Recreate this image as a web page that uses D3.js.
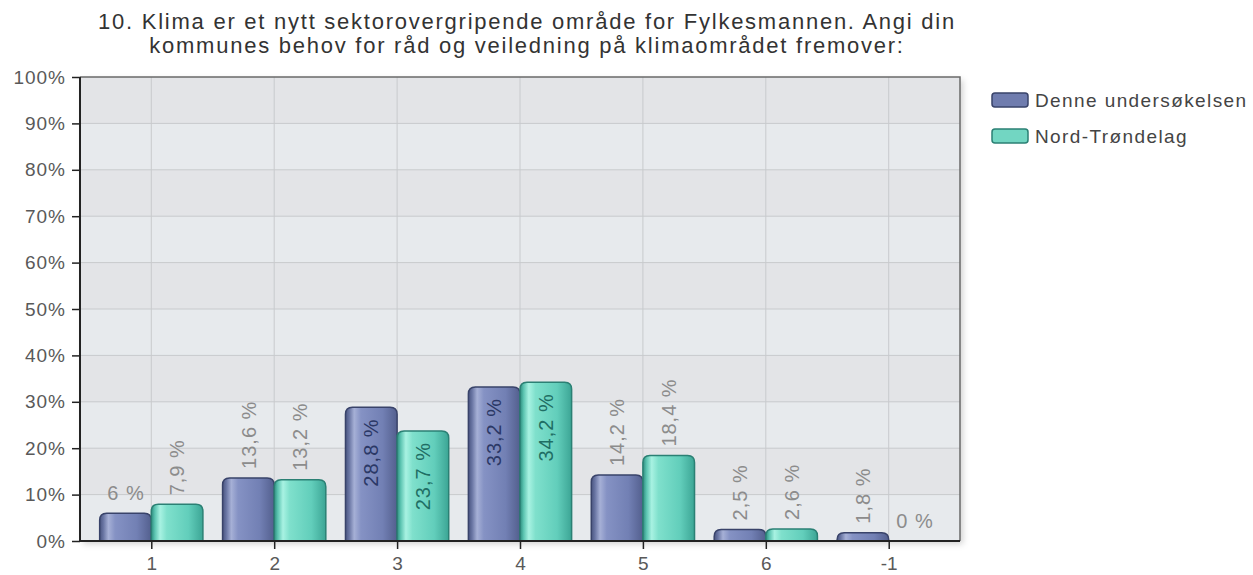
<!DOCTYPE html>
<html>
<head>
<meta charset="utf-8">
<script src="https://cdn.jsdelivr.net/npm/d3@7"></script>
<style>
  body { margin: 0; background: #fff; }
  text { font-family: "Liberation Sans", Arial, sans-serif; }
</style>
</head>
<body>
<div id="chart"></div>
<script>
// Data
const categories = ["1", "2", "3", "4", "5", "6", "-1"];
const seriesNames = ["Denne undersøkelsen", "Nord-Trøndelag"];
const denne = [6, 13.6, 28.8, 33.2, 14.2, 2.5, 1.8];
const nordTrondelag = [7.9, 13.2, 23.7, 34.2, 18.4, 2.6, 0];
const yTicks = [0, 10, 20, 30, 40, 50, 60, 70, 80, 90, 100];
const titleLines = [
  "10. Klima er et nytt sektorovergripende område for Fylkesmannen. Angi din",
  "kommunes behov for råd og veiledning på klimaområdet fremover:"
];

const width = 1253, height = 575;
const plot = { left: 80, right: 960, top: 77, bottom: 541 };

const svg = d3.select("#chart").append("svg")
  .attr("width", width)
  .attr("height", height);

const defs = svg.append("defs");

// soft shadow round the plot box
const shadow = defs.append("filter").attr("id", "plot-shadow")
  .attr("x", "-5%").attr("y", "-5%").attr("width", "110%").attr("height", "110%");
shadow.append("feDropShadow")
  .attr("dx", 3).attr("dy", 3).attr("stdDeviation", 3)
  .attr("flood-color", "#000").attr("flood-opacity", 0.18);

// cylinder-like gradients for the bars
const gradStops = {
  blue: [[0, "#4a5580"], [0.07, "#6874a2"], [0.17, "#a6b0d6"], [0.3, "#8592c4"], [0.72, "#7280b4"], [1, "#535f8e"]],
  teal: [[0, "#2d8c7e"], [0.07, "#5cc4b1"], [0.17, "#a8f2e2"], [0.3, "#7fe0cc"], [0.72, "#62cebb"], [1, "#3ca595"]]
};
Object.entries(gradStops).forEach(([key, stops]) => {
  const g = defs.append("linearGradient").attr("id", "grad-" + key)
    .attr("x1", "0%").attr("y1", "0%").attr("x2", "100%").attr("y2", "0%");
  g.selectAll("stop").data(stops).enter().append("stop")
    .attr("offset", d => d[0]).attr("stop-color", d => d[1]);
});

const series = [
  { name: seriesNames[0], values: denne, fill: "url(#grad-blue)", stroke: "#39436a", inside: "#2b3866", side: -1, legendFill: "#6f7cae" },
  { name: seriesNames[1], values: nordTrondelag, fill: "url(#grad-teal)", stroke: "#2b8074", inside: "#1f6e64", side: 0, legendFill: "#72d6c2" }
];

// Scales
const x = d3.scalePoint()
  .domain(categories)
  .range([plot.left, plot.right])
  .padding(0.58);

const y = d3.scaleLinear()
  .domain([0, 100])
  .range([plot.bottom, plot.top]);

const barWidth = x.step() * 0.42;

// Plot background with alternating bands
svg.append("rect")
  .attr("x", plot.left).attr("y", plot.top)
  .attr("width", plot.right - plot.left).attr("height", plot.bottom - plot.top)
  .attr("fill", "#e6e9ec")
  .attr("filter", "url(#plot-shadow)");

svg.append("g").selectAll("rect")
  .data(yTicks.slice(0, -1))
  .enter().append("rect")
  .attr("x", plot.left)
  .attr("y", d => y(d + 10))
  .attr("width", plot.right - plot.left)
  .attr("height", d => y(d) - y(d + 10))
  .attr("fill", (d, i) => i % 2 ? "#e3e4e7" : "#e7eaed");

// Grid lines
const grid = svg.append("g").attr("class", "grid");
grid.selectAll("line.h")
  .data(yTicks.slice(1, -1))
  .enter().append("line")
  .attr("x1", plot.left).attr("x2", plot.right)
  .attr("y1", d => y(d)).attr("y2", d => y(d))
  .attr("stroke", "#c8cacd").attr("stroke-width", 1);
grid.selectAll("line.v")
  .data(categories)
  .enter().append("line")
  .attr("x1", d => x(d)).attr("x2", d => x(d))
  .attr("y1", plot.top).attr("y2", plot.bottom)
  .attr("stroke", "#c8cacd").attr("stroke-width", 1);

// Frame (top and right)
svg.append("path")
  .attr("d", `M${plot.left},${plot.top}H${plot.right}V${plot.bottom}`)
  .attr("fill", "none").attr("stroke", "#6a6a6a").attr("stroke-width", 1.5);

// Bars with rounded tops
function barPath(x0, w, yTop, yBase, r) {
  const h = yBase - yTop;
  if (h <= 0) return "";
  r = Math.min(r, h, w / 2);
  return `M${x0},${yBase}V${yTop + r}Q${x0},${yTop} ${x0 + r},${yTop}` +
    `H${x0 + w - r}Q${x0 + w},${yTop} ${x0 + w},${yTop + r}V${yBase}Z`;
}

const labelSize = 20;
const labelSpacing = 1;
const measure = svg.append("text")
  .attr("font-size", labelSize)
  .attr("letter-spacing", labelSpacing)
  .attr("visibility", "hidden");
function textWidth(s) {
  measure.text(s);
  return measure.node().getComputedTextLength();
}
const fmt = v => String(v).replace(".", ",") + " %";

series.forEach(s => {
  const g = svg.append("g");
  const rows = categories.map((c, i) => ({ c, v: s.values[i] }));

  g.selectAll("path")
    .data(rows.filter(d => d.v > 0))
    .enter().append("path")
    .attr("d", d => barPath(x(d.c) + s.side * barWidth, barWidth, y(d.v), y(0), 7))
    .attr("fill", s.fill)
    .attr("stroke", s.stroke)
    .attr("stroke-width", 1.5);

  rows.forEach(d => {
    const label = fmt(d.v);
    const w = textWidth(label);
    const cx = x(d.c) + s.side * barWidth + barWidth / 2;
    const top = y(d.v);
    const barH = y(0) - top;
    let t;
    if (w <= barWidth - 6) {
      t = g.append("text")
        .attr("x", cx + labelSpacing / 2).attr("y", top - 13)
        .attr("text-anchor", "middle")
        .attr("fill", "#8c8c8c");
    } else if (barH >= w + 24) {
      t = g.append("text")
        .attr("transform", `translate(${cx},${top + 11}) rotate(-90)`)
        .attr("text-anchor", "end")
        .attr("dy", "0.36em")
        .attr("fill", s.inside);
    } else {
      t = g.append("text")
        .attr("transform", `translate(${cx},${top - 9}) rotate(-90)`)
        .attr("text-anchor", "start")
        .attr("dy", "0.36em")
        .attr("fill", "#8c8c8c");
    }
    t.attr("font-size", labelSize)
      .attr("letter-spacing", labelSpacing)
      .text(label);
  });
});
measure.remove();

// Axes
const yAxis = svg.append("g")
  .attr("transform", `translate(${plot.left},0)`)
  .call(d3.axisLeft(y).tickValues(yTicks).tickFormat(d => d + "%").tickSize(8).tickPadding(6));
yAxis.select(".domain").attr("stroke", "#222").attr("stroke-width", 2).attr("d", `M0,${plot.top}V${plot.bottom}`);
yAxis.selectAll(".tick line").attr("stroke", "#222").attr("stroke-width", 1.5);
yAxis.selectAll(".tick text").attr("font-size", 19).attr("fill", "#595959")
  .attr("letter-spacing", 1)
  .style("font-family", '"Liberation Sans", Arial, sans-serif');

const xAxis = svg.append("g")
  .attr("transform", `translate(0,${plot.bottom})`)
  .call(d3.axisBottom(x).tickSize(8).tickPadding(8));
xAxis.select(".domain").attr("stroke", "#222").attr("stroke-width", 2).attr("d", `M${plot.left},0H${plot.right}`);
xAxis.selectAll(".tick line").attr("stroke", "#222").attr("stroke-width", 1.5);
xAxis.selectAll(".tick text").attr("font-size", 19).attr("fill", "#595959")
  .style("font-family", '"Liberation Sans", Arial, sans-serif');

// Title
svg.append("g").selectAll("text")
  .data(titleLines)
  .enter().append("text")
  .attr("x", 527)
  .attr("y", (d, i) => 29 + i * 24)
  .attr("text-anchor", "middle")
  .attr("font-size", 22)
  .attr("letter-spacing", 1.75)
  .attr("fill", "#333")
  .text(d => d);

// Legend
const legend = svg.append("g").attr("transform", "translate(992,93)");
const items = legend.selectAll("g")
  .data(series)
  .enter().append("g")
  .attr("transform", (d, i) => `translate(0,${i * 36})`);
items.append("rect")
  .attr("width", 36).attr("height", 14).attr("rx", 3)
  .attr("fill", d => d.legendFill)
  .attr("stroke", d => d.stroke).attr("stroke-width", 1.5);
items.append("text")
  .attr("x", 43).attr("y", 7).attr("dy", "0.36em")
  .attr("font-size", 19)
  .attr("letter-spacing", 1.4)
  .attr("fill", "#444")
  .text(d => d.name);
</script>
</body>
</html>
